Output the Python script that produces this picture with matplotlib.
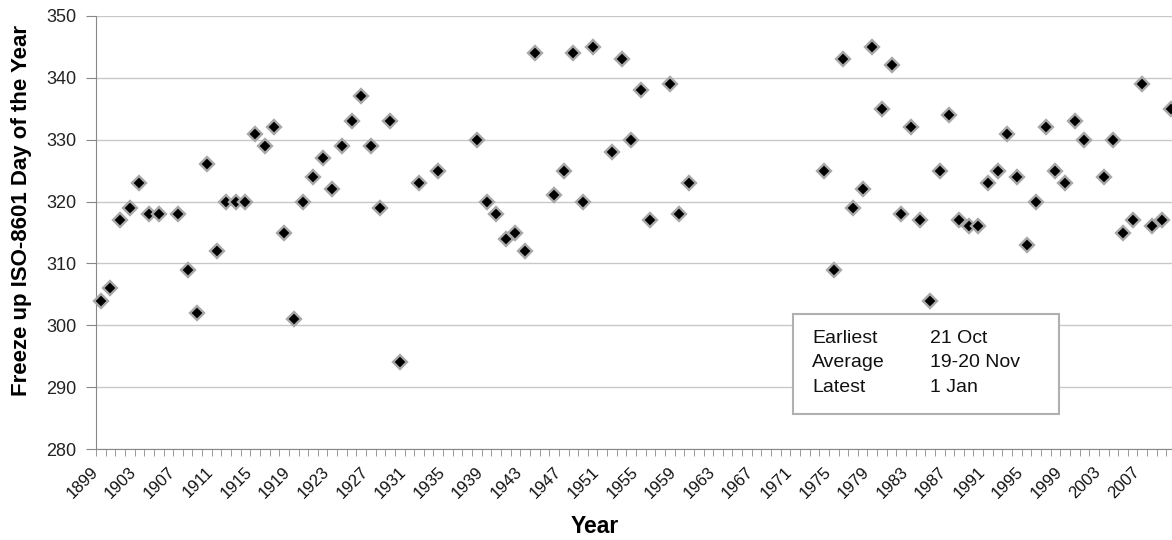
import numpy as np
import matplotlib
matplotlib.use("Agg")
import matplotlib.pyplot as plt
from matplotlib.patches import Rectangle
from matplotlib.transforms import ScaledTranslation

plt.rcParams['font.family'] = ['Liberation Sans', 'DejaVu Sans']

# freeze-up day of year
years = [1899, 1900, 1901, 1902, 1903, 1904, 1905, 1907, 1908, 1909,
         1910, 1911, 1912, 1913, 1914, 1915, 1916, 1917, 1918, 1919,
         1920, 1921, 1922, 1923, 1924, 1925, 1926, 1927, 1928, 1929,
         1930, 1932, 1934, 1938, 1939, 1940, 1941, 1942, 1943, 1944,
         1946, 1947, 1948, 1949, 1950, 1952, 1953, 1954, 1955, 1956,
         1958, 1959, 1960, 1974, 1975, 1976, 1977, 1978, 1979, 1980,
         1981, 1982, 1983, 1984, 1985, 1986, 1987, 1988, 1989, 1990,
         1991, 1992, 1993, 1994, 1995, 1996, 1997, 1998, 1999, 2000,
         2001, 2003, 2004, 2005, 2006, 2007, 2008, 2009, 2010]
freeze_day = [304, 306, 317, 319, 323, 318, 318, 318, 309, 302,
              326, 312, 320, 320, 320, 331, 329, 332, 315, 301,
              320, 324, 327, 322, 329, 333, 337, 329, 319, 333,
              294, 323, 325, 330, 320, 318, 314, 315, 312, 344,
              321, 325, 344, 320, 345, 328, 343, 330, 338, 317,
              339, 318, 323, 325, 309, 343, 319, 322, 345, 335,
              342, 318, 332, 317, 304, 325, 334, 317, 316, 316,
              323, 325, 331, 324, 313, 320, 332, 325, 323, 333,
              330, 324, 330, 315, 317, 339, 316, 317, 335]

first_year = 1899
last_year = 2010
label_step = 4

box_labels = ["Earliest", "Average", "Latest"]
box_values = ["21 Oct", "19-20 Nov", "1 Jan"]

W, H = 1172, 540
fig = plt.figure(figsize=(W / 100, H / 100), dpi=100)
ax = fig.add_axes([96 / W, 1 - 449 / H, 1080 / W, 433 / H])

xpos = np.array(years) - first_year
ax.plot(xpos, freeze_day, linestyle='none', marker='D', markersize=7,
        markerfacecolor='black', markeredgecolor='#a8a8a8', markeredgewidth=1.7,
        zorder=3, clip_on=False)

ncat = last_year - first_year + 1
ax.set_xlim(-0.5, ncat - 0.5)
ax.set_ylim(280, 350)
ax.set_yticks(np.arange(280, 351, 10))
ax.yaxis.grid(True, color='#c8c8c8', linewidth=1)
ax.set_axisbelow(True)

major = np.arange(0, ncat, label_step)
ax.set_xticks(major)
ax.set_xticklabels([str(first_year + m) for m in major], rotation=45,
                   ha='right', va='top', fontsize=12, color='#111111')
shift = ScaledTranslation(2 / 100, 0, fig.dpi_scale_trans)
for lbl in ax.get_xticklabels():
    lbl.set_transform(lbl.get_transform() + shift)
ax.set_xticks(np.arange(-0.5, ncat, 1), minor=True)
ax.tick_params(axis='x', which='major', length=0, pad=11)
ax.tick_params(axis='x', which='minor', length=5, color='#888888', direction='out')
ax.tick_params(axis='y', length=7, color='#888888', labelsize=13, pad=7,
               labelcolor='#222222')

for s in ['top', 'right']:
    ax.spines[s].set_visible(False)
for s in ['left', 'bottom']:
    ax.spines[s].set_color('#888888')

fig.text(22 / W, 1 - 211 / H, "Freeze up ISO-8601 Day of the Year", rotation=90,
         ha='center', va='center', fontsize=16, fontweight='bold')
fig.text(595 / W, 1 - 533 / H, "Year", ha='center', va='baseline',
         fontsize=16.5, fontweight='bold')

# summary box
fig.patches.append(Rectangle((793 / W, 1 - 414 / H), 266 / W, 100 / H,
                             transform=fig.transFigure, facecolor='white',
                             edgecolor='#b0b0b0', linewidth=1.5, zorder=5))
for i, (lab, val) in enumerate(zip(box_labels, box_values)):
    yy = 1 - (343 + 24.4 * i) / H
    fig.text(812 / W, yy, lab, fontsize=14, va='baseline', zorder=6, color='#111111')
    fig.text(930 / W, yy, val, fontsize=14, va='baseline', zorder=6, color='#111111')

fig.savefig("out.png", dpi=100)
